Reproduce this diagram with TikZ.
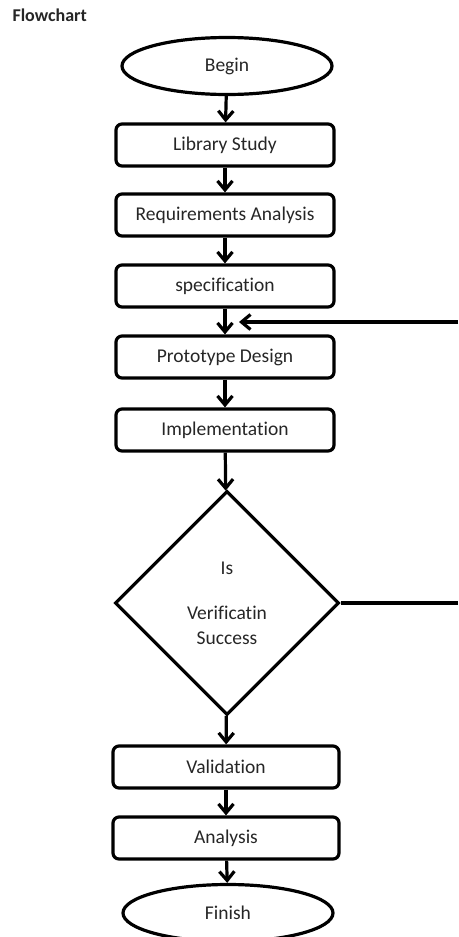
\documentclass[tikz,border=0pt]{standalone}
\usepackage{fontspec}
\setmainfont{Carlito}[Ligatures={NoCommon,NoContextual}]
\usetikzlibrary{shapes.geometric,arrows.meta}
\begin{document}
\begin{tikzpicture}[x=1pt,y=-1pt,
  every node/.style={text=black!85, font=\fontsize{19.5}{25}\selectfont},
  stepbox/.style={draw, line width=3.2pt, rounded corners=6pt, minimum width=218pt, minimum height=42pt, inner sep=0pt},
  term/.style={draw, ellipse, line width=3.2pt, minimum width=210pt, minimum height=57pt, inner sep=0pt},
  decide/.style={draw, diamond, line width=3.2pt, minimum width=224pt, minimum height=224pt, inner sep=0pt, align=center},
  flow/.style={line width=3.2pt, -{Straight Barb[length=9pt,width=15pt,line width=3.2pt]}},
  plain/.style={line width=3.2pt}]
\useasboundingbox (0,0) rectangle (458,937);
\fill[white] (0,0) rectangle (458,937);
\node[anchor=west, font=\bfseries\fontsize{18}{20}\selectfont] (title) at (9,15) {Flowchart};
\node[term] (begin) at (227,66) {Begin};
\node[stepbox] (lib) at (225,145) {Library Study};
\node[stepbox] (req) at (225,215) {Requirements Analysis};
\node[stepbox] (spec) at (225,286) {specification};
\node[stepbox] (proto) at (225,357) {Prototype Design};
\node[stepbox] (impl) at (225,430) {Implementation};
\node[decide] (dec) at (227,603) {Is\\[20pt]Verificatin\\Success};
\node[stepbox, minimum width=226pt] (valid) at (226,767) {Validation};
\node[stepbox, minimum width=226pt] (anal) at (226,838) {Analysis};
\node[term] (fin) at (228,913) {Finish};
\coordinate (r1) at (458,322);
\coordinate (r2) at (458,603);
\coordinate (tip) at (239,322);
\draw[flow] (begin) -- (lib);
\draw[flow] (lib) -- (req);
\draw[flow] (req) -- (spec);
\draw[flow] (spec) -- (proto);
\draw[flow] (proto) -- (impl);
\draw[flow] (impl) -- (dec);
\draw[flow] (dec) -- (valid);
\draw[flow] (valid) -- (anal);
\draw[flow] (anal) -- (fin);
\draw[plain] (dec.east) -- (r2);
\draw[flow] (r1) -- (tip);
\end{tikzpicture}
\end{document}
